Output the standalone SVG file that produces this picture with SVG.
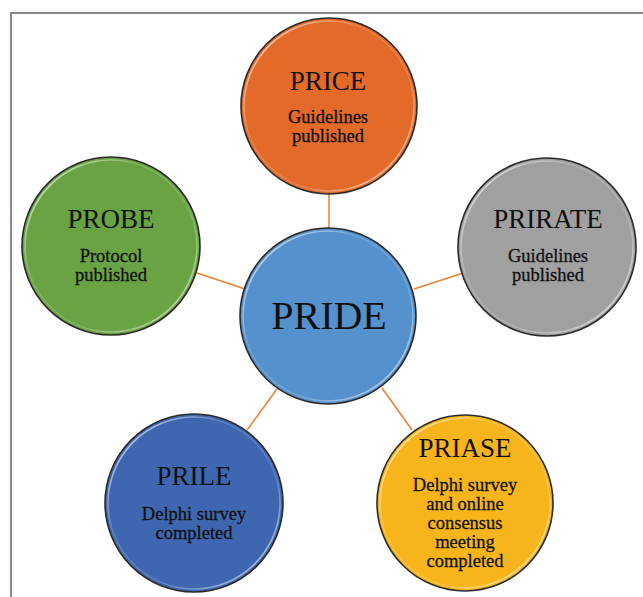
<svg xmlns="http://www.w3.org/2000/svg" width="643" height="597" viewBox="0 0 643 597">
  <defs>
    <!-- soft bevel highlight along the rim of each disc -->
    <linearGradient id="rim" x1="0" y1="0" x2="1" y2="1">
      <stop offset="0" stop-color="#ffffff" stop-opacity="0.85"/>
      <stop offset="0.35" stop-color="#ffffff" stop-opacity="0.15"/>
      <stop offset="0.65" stop-color="#ffffff" stop-opacity="0.15"/>
      <stop offset="1" stop-color="#ffffff" stop-opacity="0.75"/>
    </linearGradient>
    <style>
      .disc { stroke: #2b2b2b; stroke-width: 1.6; }
      .rim { fill: none; stroke: url(#rim); stroke-width: 1.6; }
      .title { font-family: "Liberation Serif", "Times New Roman", serif; font-size: 27px; fill: #111; text-anchor: middle; }
      .hub { font-family: "Liberation Serif", "Times New Roman", serif; font-size: 40px; fill: #111; text-anchor: middle; }
      .note { font-family: "Liberation Serif", "Times New Roman", serif; font-size: 18.5px; fill: #111; stroke: #111; stroke-width: 0.3; text-anchor: middle; }
      .link { stroke: #ED7D31; stroke-width: 1.5; fill: none; }
      .frame { fill: none; stroke: #6e6e6e; stroke-width: 1.6; }
    </style>
  </defs>

  <rect width="643" height="597" fill="#ffffff"/>
  <rect class="frame" x="11" y="13" width="660" height="620"/>

  <g id="connectors">
    <line class="link" x1="329" y1="194" x2="329" y2="229"/>
    <line class="link" x1="197" y1="273" x2="245" y2="289"/>
    <line class="link" x1="414" y1="289" x2="463" y2="273"/>
    <line class="link" x1="277" y1="389" x2="247" y2="430"/>
    <line class="link" x1="382" y1="388" x2="412" y2="430"/>
  </g>

  <g id="price">
    <circle class="disc" cx="329" cy="106" r="88" fill="#E46A29"/>
    <circle class="rim" cx="329" cy="106" r="85"/>
    <text class="title" x="328" y="90">PRICE</text>
    <text class="note" x="328" y="123">Guidelines</text>
    <text class="note" x="328" y="142">published</text>
  </g>

  <g id="probe">
    <circle class="disc" cx="111" cy="246" r="89" fill="#69A343"/>
    <circle class="rim" cx="111" cy="246" r="86"/>
    <text class="title" x="111" y="228">PROBE</text>
    <text class="note" x="111" y="262">Protocol</text>
    <text class="note" x="111" y="281">published</text>
  </g>

  <g id="prirate">
    <circle class="disc" cx="547" cy="247" r="89" fill="#A0A0A0"/>
    <circle class="rim" cx="547" cy="247" r="86"/>
    <text class="title" x="548" y="228">PRIRATE</text>
    <text class="note" x="548" y="262">Guidelines</text>
    <text class="note" x="548" y="281">published</text>
  </g>

  <g id="pride">
    <circle class="disc" cx="328" cy="316" r="88" fill="#5591CC"/>
    <circle class="rim" cx="328" cy="316" r="85"/>
    <text class="hub" x="329" y="329">PRIDE</text>
  </g>

  <g id="prile">
    <circle class="disc" cx="194" cy="503" r="89" fill="#3F67B1"/>
    <circle class="rim" cx="194" cy="503" r="86"/>
    <text class="title" x="194" y="485">PRILE</text>
    <text class="note" x="194" y="520">Delphi survey</text>
    <text class="note" x="194" y="539">completed</text>
  </g>

  <g id="priase">
    <circle class="disc" cx="465" cy="503" r="88" fill="#F7B51B"/>
    <circle class="rim" cx="465" cy="503" r="85"/>
    <text class="title" x="465" y="457">PRIASE</text>
    <text class="note" x="465" y="491">Delphi survey</text>
    <text class="note" x="465" y="510">and online</text>
    <text class="note" x="465" y="529">consensus</text>
    <text class="note" x="465" y="548">meeting</text>
    <text class="note" x="465" y="567">completed</text>
  </g>
</svg>
